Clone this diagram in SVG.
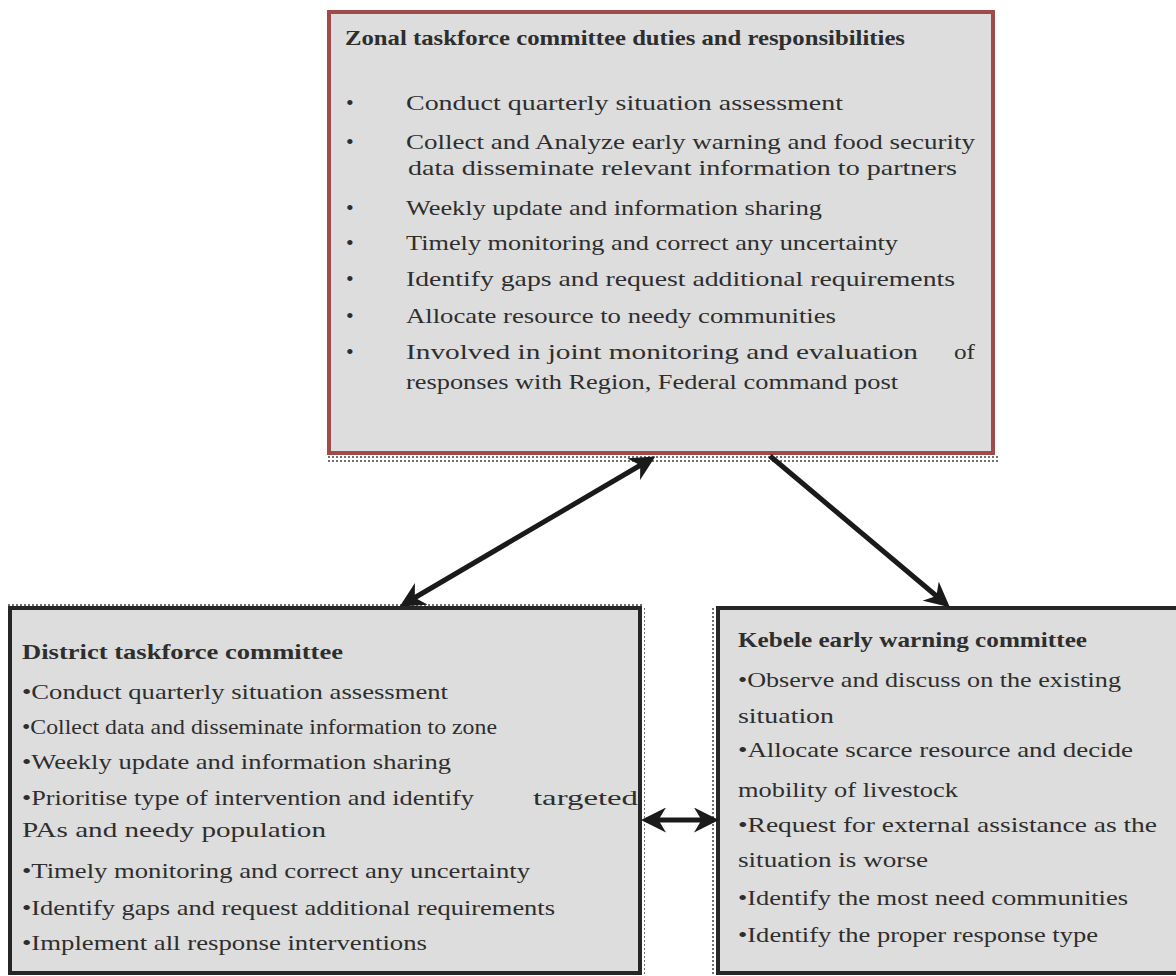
<svg xmlns="http://www.w3.org/2000/svg" width="1176" height="976" viewBox="0 0 1176 976">
<style>
.t{font-family:'Liberation Serif','DejaVu Serif',serif;font-size:22px;fill:#2e2e2e}
.b{font-weight:bold;font-size:21px}
.box{fill:#dddddd}
.conn{stroke:#1a1a1a;stroke-width:5;fill:none}
</style>
<defs>
<pattern id="dots" width="4" height="4" patternUnits="userSpaceOnUse">
<rect x="0" y="0" width="2" height="2" fill="#333"/>
</pattern>
<marker id="ah" viewBox="0 0 10 10" refX="8" refY="5" markerWidth="5" markerHeight="5" orient="auto-start-reverse" markerUnits="strokeWidth">
<path d="M0,0 L10,5 L0,10 L3,5 Z" fill="#1a1a1a"/>
</marker>
</defs>
<rect width="1176" height="976" fill="#ffffff"/>

<g id="zonal">
<rect x="327" y="454" width="672" height="8" fill="url(#dots)" opacity="0.7"/>
<rect x="329" y="12" width="664" height="441" class="box" stroke="#a04a4a" stroke-width="4"/>
<text class="t b" x="345" y="45" textLength="560" lengthAdjust="spacingAndGlyphs">Zonal taskforce committee duties and responsibilities</text>
<text class="t" x="346" y="110">•</text>
<text class="t" x="406" y="110" textLength="437" lengthAdjust="spacingAndGlyphs">Conduct quarterly situation assessment</text>
<text class="t" x="346" y="149">•</text>
<text class="t" x="406" y="149" textLength="569" lengthAdjust="spacingAndGlyphs">Collect and Analyze early warning and  food security</text>
<text class="t" x="408" y="175" textLength="549" lengthAdjust="spacingAndGlyphs">data disseminate relevant  information to partners</text>
<text class="t" x="346" y="215">•</text>
<text class="t" x="406" y="215" textLength="416" lengthAdjust="spacingAndGlyphs">Weekly update and information sharing</text>
<text class="t" x="346" y="250">•</text>
<text class="t" x="406" y="250" textLength="492" lengthAdjust="spacingAndGlyphs">Timely monitoring and correct any uncertainty</text>
<text class="t" x="346" y="286">•</text>
<text class="t" x="406" y="286" textLength="549" lengthAdjust="spacingAndGlyphs">Identify gaps and request additional requirements</text>
<text class="t" x="346" y="323">•</text>
<text class="t" x="406" y="323" textLength="430" lengthAdjust="spacingAndGlyphs">Allocate resource  to needy communities</text>
<text class="t" x="346" y="359">•</text>
<text class="t" x="406" y="359"><tspan textLength="512" lengthAdjust="spacingAndGlyphs">Involved in joint monitoring and evaluation</tspan><tspan x="954" textLength="21" lengthAdjust="spacingAndGlyphs">of</tspan></text>
<text class="t" x="406" y="389" textLength="492" lengthAdjust="spacingAndGlyphs">responses with Region, Federal command post</text>
</g>

<g id="district">
<rect x="8" y="603" width="634" height="4" fill="url(#dots)" opacity="0.7"/>
<rect x="641" y="606" width="4" height="368" fill="url(#dots)" opacity="0.7"/>
<rect x="10" y="608" width="630" height="365" class="box" stroke="#262626" stroke-width="4"/>
<text class="t b" x="22" y="659" textLength="321" lengthAdjust="spacingAndGlyphs">District taskforce committee</text>
<text class="t" x="22" y="699" textLength="426" lengthAdjust="spacingAndGlyphs">•Conduct quarterly situation assessment</text>
<text class="t" x="22" y="734" textLength="475" lengthAdjust="spacingAndGlyphs">•Collect data  and disseminate information to zone</text>
<text class="t" x="22" y="769" textLength="429" lengthAdjust="spacingAndGlyphs">•Weekly update and information  sharing</text>
<text class="t" x="22" y="805"><tspan textLength="452" lengthAdjust="spacingAndGlyphs">•Prioritise type of intervention and identify</tspan><tspan x="533" textLength="105" lengthAdjust="spacingAndGlyphs">targeted</tspan></text>
<text class="t" x="22" y="837" textLength="304" lengthAdjust="spacingAndGlyphs">PAs and needy population</text>
<text class="t" x="22" y="878" textLength="508" lengthAdjust="spacingAndGlyphs">•Timely monitoring and correct any uncertainty</text>
<text class="t" x="22" y="915" textLength="533" lengthAdjust="spacingAndGlyphs">•Identify gaps and request additional requirements</text>
<text class="t" x="22" y="950" textLength="405" lengthAdjust="spacingAndGlyphs">•Implement all response interventions</text>
</g>

<g id="kebele">
<rect x="712" y="606" width="4" height="368" fill="url(#dots)" opacity="0.7"/>
<rect x="718" y="608" width="470" height="365" class="box" stroke="#262626" stroke-width="4"/>
<text class="t b" x="738" y="647" textLength="349" lengthAdjust="spacingAndGlyphs">Kebele early warning committee</text>
<text class="t" x="738" y="687" textLength="383" lengthAdjust="spacingAndGlyphs">•Observe and discuss on the existing</text>
<text class="t" x="738" y="723" textLength="96" lengthAdjust="spacingAndGlyphs">situation</text>
<text class="t" x="738" y="757" textLength="395" lengthAdjust="spacingAndGlyphs">•Allocate scarce resource and  decide</text>
<text class="t" x="738" y="797" textLength="220" lengthAdjust="spacingAndGlyphs">mobility of livestock</text>
<text class="t" x="738" y="832" textLength="419" lengthAdjust="spacingAndGlyphs">•Request for external assistance as the</text>
<text class="t" x="738" y="867" textLength="190" lengthAdjust="spacingAndGlyphs">situation is worse</text>
<text class="t" x="738" y="905" textLength="390" lengthAdjust="spacingAndGlyphs">•Identify the most need communities</text>
<text class="t" x="738" y="942" textLength="360" lengthAdjust="spacingAndGlyphs">•Identify the proper response type</text>
</g>

<g id="connectors">
<line class="conn" x1="651" y1="459" x2="404" y2="604" marker-start="url(#ah)" marker-end="url(#ah)"/>
<line class="conn" x1="770" y1="456" x2="946" y2="604" marker-end="url(#ah)"/>
<line class="conn" x1="646" y1="820" x2="714" y2="820" marker-start="url(#ah)" marker-end="url(#ah)"/>
</g>
</svg>
